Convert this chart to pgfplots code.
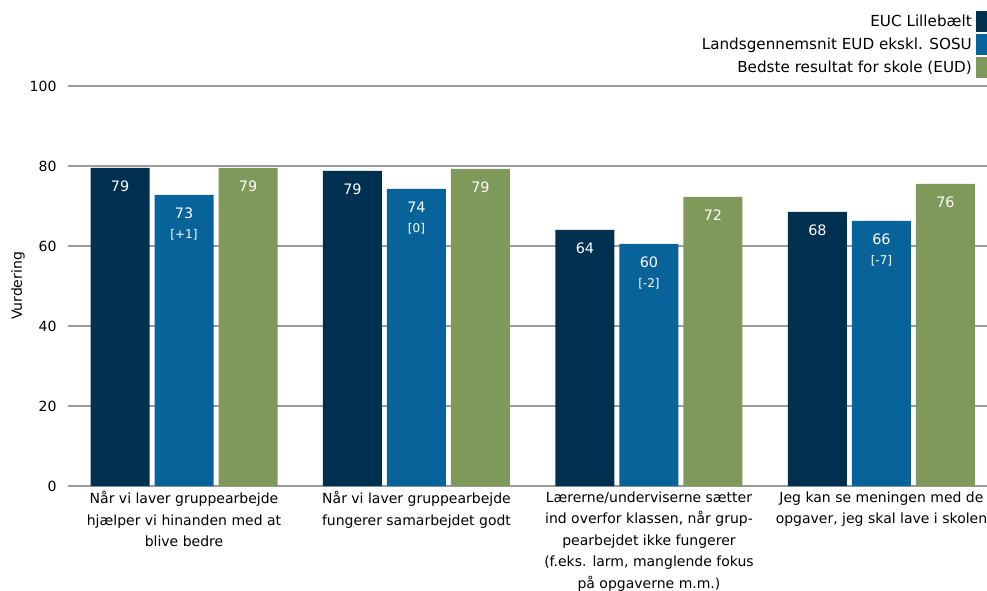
\documentclass[border=0pt]{standalone}
\usepackage{fontspec}
\setmainfont{DejaVu Sans}
\usepackage{pgfplots}
\pgfplotsset{compat=1.18}
\usepackage{pgfplotstable}

\definecolor{euc}{HTML}{00304F}
\definecolor{lands}{HTML}{07639A}
\definecolor{best}{HTML}{7E9959}
\definecolor{gridgray}{HTML}{9A9A9A}

\newcommand\lab[2]{#1\\{\fontsize{12}{14}\selectfont[#2]}}

% bar heights, labels as printed
\pgfplotstableread[col sep=comma]{
x,y,lab
0,79.5,79
1,78.75,79
2,64,64
3,68.5,68
}\euc
\pgfplotstableread[col sep=comma]{
x,y,lab
0,72.75,\lab{73}{+1}
1,74.25,\lab{74}{0}
2,60.5,\lab{60}{-2}
3,66.25,\lab{66}{-7}
}\lands
\pgfplotstableread[col sep=comma]{
x,y,lab
0,79.5,79
1,79.25,79
2,72.25,72
3,75.5,76
}\best

\begin{document}
\begin{tikzpicture}[font=\fontsize{14}{21.5}\selectfont]
\begin{axis}[
    scale only axis, width=919pt, height=400pt,
    at={(0,0)}, anchor=south west,
    ybar, bar width=59pt,
    xmin=-0.499, xmax=3.454, ymin=0, ymax=100,
    ytick={0,20,...,100},
    /pgf/number format/assume math mode=true,
    ymajorgrids, grid style={gridgray, line width=1.1pt},
    axis line style={draw=none},
    major tick length=0pt, tick style={draw=none},
    yticklabel style={xshift=-8pt},
    xtick={0,1,2,3},
    xticklabels={
      {Når vi laver gruppearbejde\\hjælper vi hinanden med at\\blive bedre},
      {Når vi laver gruppearbejde\\fungerer samarbejdet godt},
      {Lærerne/underviserne sætter\\ind overfor klassen, når grup-\\pearbejdet ikke fungerer\\(f.eks. larm, manglende fokus\\på opgaverne m.m.)},
      {Jeg kan se meningen med de\\opgaver, jeg skal lave i skolen}},
    xticklabel style={align=center, anchor=north, yshift=-2pt},
    ylabel={Vurdering},
    every axis y label/.style={at={(axis description cs:-0.0544,0.5)}, anchor=center, rotate=90},
    point meta=explicit symbolic,
    nodes near coords,
    every node near coord/.append style={anchor=north, yshift=-13pt, inner sep=0pt, text=white, align=center,
      font=\fontsize{14.4}{20}\selectfont},
    legend style={at={(axis description cs:1,1)}, anchor=north east, yshift=75pt,
      draw=none, fill=none, inner sep=0pt, row sep=2pt, column sep=3pt,
      nodes={inner sep=1pt}, font=\fontsize{15.2}{18}\selectfont},
    legend cell align=right,
    legend plot pos=right,
]
\addplot[bar shift=-64pt, fill=euc, draw=none,
  legend image code/.code={\fill[euc] (0pt,-10.5pt) rectangle (11pt,10.5pt);}]
  table[x=x, y=y, meta=lab] {\euc};
\addlegendentry{EUC Lillebælt}
\addplot[bar shift=0pt, fill=lands, draw=none,
  legend image code/.code={\fill[lands] (0pt,-10.5pt) rectangle (11pt,10.5pt);}]
  table[x=x, y=y, meta=lab] {\lands};
\addlegendentry{Landsgennemsnit EUD ekskl. SOSU}
\addplot[bar shift=64pt, fill=best, draw=none,
  legend image code/.code={\fill[best] (0pt,-10.5pt) rectangle (11pt,10.5pt);}]
  table[x=x, y=y, meta=lab] {\best};
\addlegendentry{Bedste resultat for skole (EUD)}
\end{axis}
\pgfresetboundingbox
\path (-68pt,-105pt) rectangle (919pt,486pt);
\end{tikzpicture}
\end{document}
